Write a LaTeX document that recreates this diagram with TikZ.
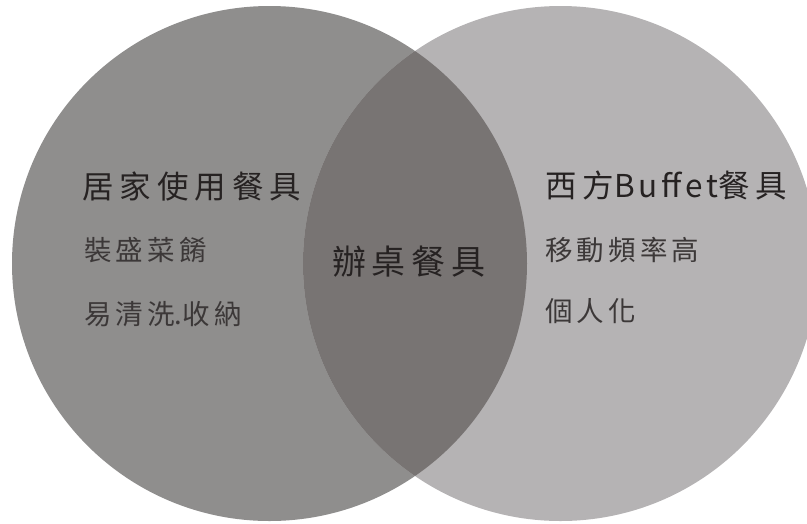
\documentclass[tikz,border=0pt]{standalone}
\usepackage{fontspec}
\newfontfamily\cjk{Noto Sans CJK TC}
\definecolor{leftgray}{HTML}{8F8E8D}
\definecolor{rightgray}{HTML}{B5B3B4}
\definecolor{midgray}{HTML}{787473}
\definecolor{txt}{HTML}{262222}
\tikzset{
  titletext/.style={anchor=west, inner sep=0pt, text=txt, font=\cjk\fontsize{31.5}{31.5}\selectfont\addfontfeatures{LetterSpace=19}},
  subtext/.style={anchor=west, inner sep=0pt, text=txt!90!white, font=\cjk\fontsize{27.5}{27.5}\selectfont\addfontfeatures{LetterSpace=15}},
  midtext/.style={anchor=west, inner sep=0pt, text=txt, font=\cjk\fontsize{34}{34}\selectfont\addfontfeatures{LetterSpace=17}}
}
\begin{document}
\begin{tikzpicture}[x=1pt,y=-1pt]
\useasboundingbox (0,0) rectangle (807,523);
\clip (0,0) rectangle (807,523);
\fill[leftgray] (269.5,263.5) circle[radius=257.5];
\fill[rightgray] (560.5,263.5) circle[radius=257.5];
\begin{scope}
  \clip (269.5,263.5) circle[radius=257.5];
  \fill[midgray] (560.5,263.5) circle[radius=257.5];
\end{scope}
\node[titletext] (lt) at (82,186) {居家使用餐具};
\node[subtext] (l1) at (84,250) {裝盛菜餚};
\node[subtext] (l2) at (84,314) {易清洗{\addfontfeatures{LetterSpace=0}.}收納};
\node[titletext] (rt) at (545,185) {西方{\addfontfeatures{LetterSpace=12}Buffet}餐具};
\node[subtext] (r1) at (545,250) {移動頻率高};
\node[subtext] (r2) at (545,311) {個人化};
\node[midtext] (m) at (332,262) {辦桌餐具};
\end{tikzpicture}
\end{document}
